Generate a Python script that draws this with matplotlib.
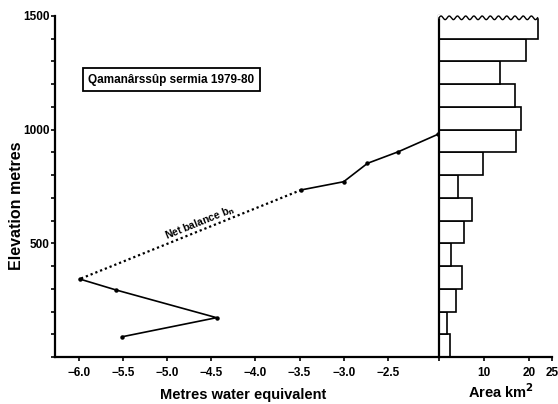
import numpy as np
import matplotlib
matplotlib.use("Agg")
import matplotlib.pyplot as plt

# net balance profile (metres water equivalent vs elevation)
balance_solid_hi = [-1.93, -2.38, -2.73, -3.00, -3.48]
elev_solid_hi = [980, 903, 852, 771, 735]
balance_dotted = [-3.48, -5.99]
elev_dotted = [735, 343]
balance_solid_lo = [-5.99, -5.58, -4.44, -5.51]
elev_solid_lo = [343, 295, 173, 89]

# area-altitude distribution, 100 m bands
band_bottoms = [0, 100, 200, 300, 400, 500, 600, 700, 800, 900, 1000, 1100, 1200, 1300, 1400]
band_area = [2.4, 1.8, 3.8, 5.1, 2.7, 5.5, 7.2, 4.3, 9.7, 17.1, 18.2, 16.8, 13.4, 19.3, 21.8]

balance_ticks = [-6.0, -5.5, -5.0, -4.5, -4.0, -3.5, -3.0, -2.5]
area_ticks = [0, 10, 20, 25]
area_tick_labels = ["", "10", "20", "25"]

plt.rcParams["font.family"] = ["Liberation Sans", "DejaVu Sans"]
plt.rcParams["font.weight"] = "bold"

fig = plt.figure(figsize=(5.58, 4.04), dpi=100)
W, H = 558, 404


def px_axes(x0, x1, y0, y1):
    return fig.add_axes([x0 / W, 1 - y1 / H, (x1 - x0) / W, (y1 - y0) / H])


ax = px_axes(55, 439, 16, 357)
ax2 = px_axes(439, 552, 16, 357)

# ---- balance panel ----
ax.plot(balance_solid_hi, elev_solid_hi, color="black", lw=1.2, marker="o", ms=2.2)
ax.plot(balance_dotted, elev_dotted, color="black", lw=1.6, ls=(0, (1, 1.3)))
ax.plot(balance_solid_lo, elev_solid_lo, color="black", lw=1.2, marker="o", ms=2.2)

ax.set_xlim(-6.27, -1.92)
ax.set_ylim(0, 1500)
for s in ["top", "right"]:
    ax.spines[s].set_visible(False)
for s in ["left", "bottom"]:
    ax.spines[s].set_linewidth(1.6)
ax.set_xticks(balance_ticks)
ax.set_xticklabels([f"\u2212{abs(v):.1f}" for v in balance_ticks])
ax.set_yticks(range(0, 1501, 100))
ax.set_yticklabels(["500" if v == 500 else "1000" if v == 1000 else "1500" if v == 1500 else ""
                    for v in range(0, 1501, 100)])
ax.tick_params(axis="x", length=3, width=1.2, labelsize=8.5, pad=4)
ax.tick_params(axis="y", length=3, width=1.2, labelsize=8.5, pad=1)
for lab in ax.get_xticklabels() + ax.get_yticklabels():
    lab.set_fontweight("bold")

ax.set_ylabel("Elevation metres", fontsize=11.5, fontweight="bold")
ax.yaxis.set_label_coords(-0.081, 0.443)
ax.set_xlabel("Metres water equivalent", fontsize=10.5, fontweight="bold")
ax.xaxis.set_label_coords(0.49, -0.09)

ax.text(-4.95, 1220, "Qamanârssûp sermia 1979-80", fontsize=8.5, fontweight="bold",
        ha="center", va="center",
        bbox=dict(boxstyle="square,pad=0.45", fc="white", ec="black", lw=1.3))
ax.text(-4.63, 592, "Net balance b$_\\mathbf{n}$", fontsize=7.5, fontweight="bold",
        rotation=22, ha="center", va="center")

# ---- area panel ----
ax2.barh(band_bottoms, band_area, height=100, align="edge",
         facecolor="white", edgecolor="black", lw=1.2)
top_b = band_bottoms[-1] + 100
# wavy top edge of the highest band
ax2.plot([0, band_area[-1]], [top_b, top_b], color="white", lw=2.5, clip_on=False, zorder=3)
wx = np.linspace(0, band_area[-1], 200)
ax2.plot(wx, top_b - 8 + 8 * np.sin(wx / band_area[-1] * 2 * np.pi * 12),
         color="black", lw=1.0, clip_on=False, zorder=4)

ax2.set_xlim(0, 25)
ax2.set_ylim(0, 1500)
for s in ["top", "right"]:
    ax2.spines[s].set_visible(False)
for s in ["left", "bottom"]:
    ax2.spines[s].set_linewidth(1.6)
ax2.set_yticks([])
ax2.set_xticks(area_ticks)
ax2.set_xticklabels(area_tick_labels)
ax2.tick_params(axis="x", length=3, width=1.2, labelsize=8.5, pad=4)
for lab in ax2.get_xticklabels():
    lab.set_fontweight("bold")
ax2.set_xlabel("Area km$^\\mathbf{2}$", fontsize=10.5, fontweight="bold")
ax2.xaxis.set_label_coords(0.55, -0.075)

fig.savefig("out.png", dpi=100)
